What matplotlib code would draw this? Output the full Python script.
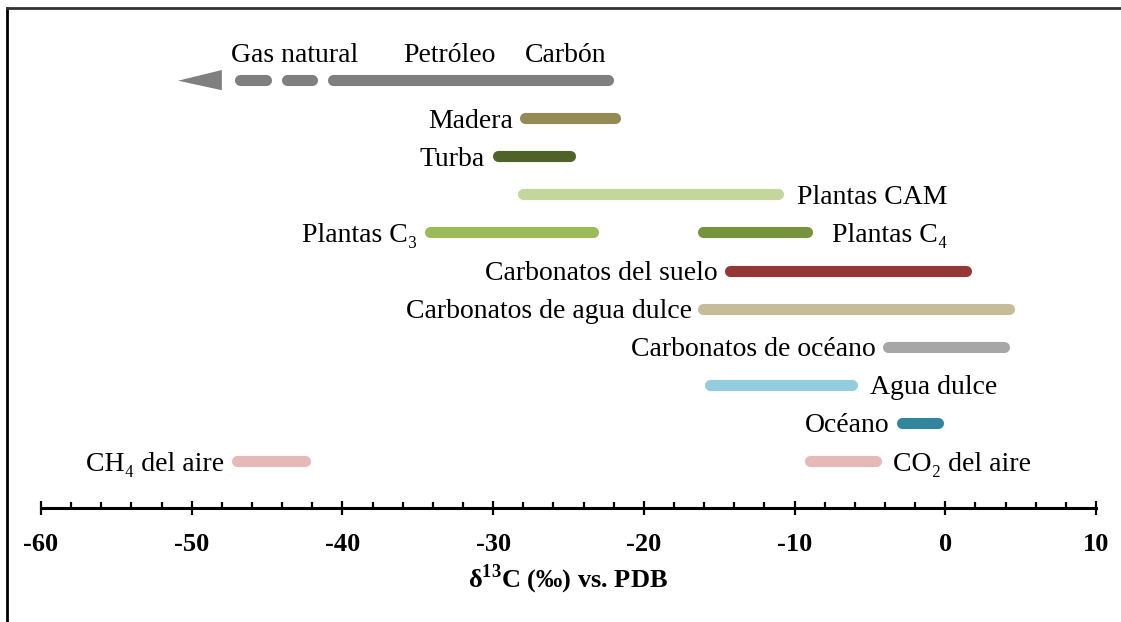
import matplotlib
matplotlib.use("Agg")
import matplotlib.pyplot as plt
from matplotlib.lines import Line2D
from matplotlib.patches import Polygon
from matplotlib.ticker import MultipleLocator

plt.rcParams['font.family'] = ['Liberation Serif', 'DejaVu Serif']
plt.rcParams['axes.unicode_minus'] = False
plt.rcParams['mathtext.fontset'] = 'custom'
plt.rcParams['mathtext.rm'] = 'Liberation Serif'
plt.rcParams['mathtext.bf'] = 'Liberation Serif:bold'

# ---- data (δ13C ranges, ‰ vs PDB) ----
fossil_labels = ["Gas natural", "Petróleo", "Carbón"]
fossil_label_x = [-43.2, -32.9, -25.2]
fossil_solid = [-40.6, -22.4]
fossil_dashes = [[-46.8, -45.1], [-43.7, -42.0]]
fossil_arrow = [-50.9, -48.0]   # tip, base

names = ["Madera", "Turba", "Plantas CAM", "Plantas C₃", "Plantas C₄",
         "Carbonatos del suelo", "Carbonatos de agua dulce",
         "Carbonatos de océano", "Agua dulce", "Océano",
         "CH₄ del aire", "CO₂ del aire"]
lows = [-27.9, -29.7, -28.0, -34.2, -16.1, -14.3, -16.1, -3.8, -15.6, -2.9, -47.0, -9.0]
highs = [-21.9, -24.9, -11.1, -23.4, -9.2, 1.4, 4.2, 3.9, -6.2, -0.5, -42.5, -4.6]

# ---- layout / style ----
rows = [1, 2, 3, 4, 4, 5, 6, 7, 8, 9, 10, 10]
sides = ["left", "left", "right", "left", "right", "left", "left", "left",
         "right", "left", "left", "right"]
gaps = [8.5, 9, 14, 9, 18, 8.5, 8, 8.5, 13, 8.5, 9, 12.5]
colors = ["#948a54", "#4f6228", "#c3d69b", "#9bbb59", "#77933c", "#953735",
          "#c4bd97", "#a6a6a6", "#93cddd", "#31859c", "#e6b9b8", "#e6b9b8"]
gray = "#7f7f7f"
lw = 8
fs = 20

fig = plt.figure(figsize=(11.21, 6.22), dpi=100)
ax = fig.add_axes([41/1121, 1 - 508/622, (1096-41)/1121, (508-30)/622])
ax.set_xlim(-60, 10)
ax.set_ylim(11.23, -1.31)

# fossil fuels
ax.plot(fossil_solid, [0, 0], color=gray, lw=lw, solid_capstyle='round')
for d in fossil_dashes:
    ax.plot(d, [0, 0], color=gray, lw=lw, solid_capstyle='round')
ax.add_patch(Polygon([[fossil_arrow[0], 0.02], [fossil_arrow[1], -0.26],
                      [fossil_arrow[1], 0.27]], closed=True, color=gray, lw=0))
for lab, x in zip(fossil_labels, fossil_label_x):
    ax.text(x, -0.73, lab, ha='center', va='center_baseline', fontsize=fs)

for name, lo, hi, r, side, g, c in zip(names, lows, highs, rows, sides, gaps, colors):
    ax.plot([lo, hi], [r, r], color=c, lw=lw, solid_capstyle='round')
    if side == "left":
        ax.annotate(name, (lo, r), xytext=(-g, 0), textcoords='offset points',
                    ha='right', va='center_baseline', fontsize=fs)
    else:
        ax.annotate(name, (hi, r), xytext=(g, 0), textcoords='offset points',
                    ha='left', va='center_baseline', fontsize=fs)

for s in ['left', 'right', 'top']:
    ax.spines[s].set_visible(False)
ax.spines['bottom'].set_linewidth(2.2)
ax.set_yticks([])
ax.xaxis.set_major_locator(MultipleLocator(10))
ax.xaxis.set_minor_locator(MultipleLocator(2))
ax.tick_params(axis='x', which='major', direction='inout', length=9.5, width=1.6,
               pad=13, labelsize=19)
ax.tick_params(axis='x', which='minor', direction='in', length=4.5, width=1.6)
for t in ax.get_xticklabels():
    t.set_fontweight('bold')
ax.set_xlabel(r"δ$^{\mathbf{13}}$C (‰) vs. PDB", fontsize=19, fontweight='bold',
              labelpad=5)

# outer frame (left and top edges)
fig.add_artist(Line2D([6.5/1121, 6.5/1121], [0, 1 - 8/622], transform=fig.transFigure,
                      color='black', lw=2))
fig.add_artist(Line2D([6.5/1121, 1], [1 - 8/622, 1 - 8/622], transform=fig.transFigure,
                      color='#333333', lw=2))

fig.savefig("out.png", dpi=100)
